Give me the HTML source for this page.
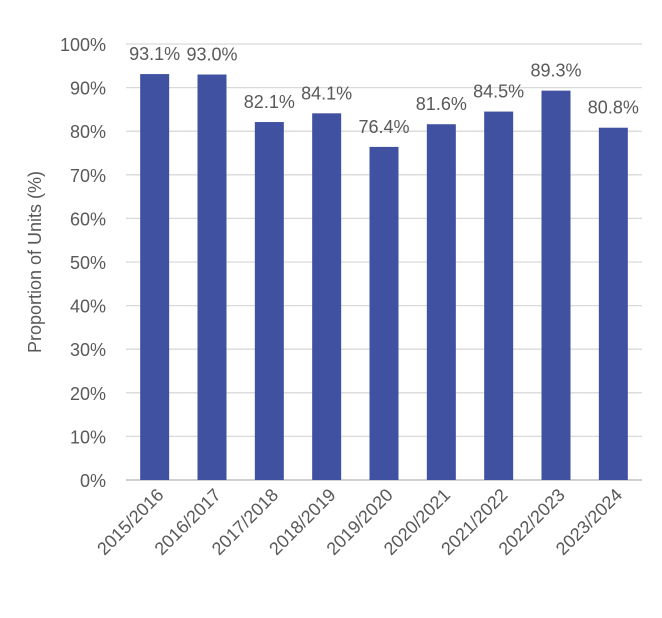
<!DOCTYPE html>
<html><head><meta charset="utf-8"><style>
html,body{margin:0;padding:0;background:#fff;}
svg{display:block;font-family:"Liberation Sans",sans-serif;}
</style></head><body>
<svg id="chart" width="662" height="618" xmlns="http://www.w3.org/2000/svg"></svg>
<script>
const categories=["2015/2016","2016/2017","2017/2018","2018/2019","2019/2020","2020/2021","2021/2022","2022/2023","2023/2024"];
const values=[93.1,93.0,82.1,84.1,76.4,81.6,84.5,89.3,80.8];
const valueLabels=["93.1%","93.0%","82.1%","84.1%","76.4%","81.6%","84.5%","89.3%","80.8%"];
const yTicks=[0,10,20,30,40,50,60,70,80,90,100];
const yTickLabels=["0%","10%","20%","30%","40%","50%","60%","70%","80%","90%","100%"];

(function(){
const svg=document.getElementById('chart');
const NS="http://www.w3.org/2000/svg";
const plotL=126,plotR=642,plotT=44,plotB=480;
const band=(plotR-plotL)/categories.length;
const yS=v=>plotB-(v/100)*(plotB-plotT);
const xS=i=>plotL+band*(i+0.5);
function mk(t,a){const e=document.createElementNS(NS,t);for(const k in a)e.setAttribute(k,a[k]);svg.appendChild(e);return e;}

yTicks.forEach((t,i)=>{
  const g=mk('line',{x1:plotL,x2:plotR,y1:yS(t),y2:yS(t),stroke:i===0?'#d0d0d0':'#d9d9d9','stroke-width':i===0?2:1.3});
  
  
  const l=mk('text',{x:106,y:yS(t)+7,'text-anchor':'end','font-size':18,fill:'#595959'});
  l.textContent=yTickLabels[i];
  
  
});

categories.forEach((c,i)=>{
  const bw=29;
  const b=mk('rect',{x:xS(i)-bw/2,y:yS(values[i]),width:bw,height:plotB-yS(values[i]),fill:'#3f51a0'});
  
  
  const v=mk('text',{x:xS(i),y:yS(values[i])-14,'text-anchor':'middle','font-size':18,fill:'#595959'});
  v.textContent=valueLabels[i];
  
  
  const cx=xS(i)+10,cy=496;
  const t=mk('text',{x:cx,y:cy,'text-anchor':'end','font-size':18,fill:'#595959',transform:`rotate(-45 ${cx} ${cy})`});
  t.textContent=c;
  
  
});

const at=mk('text',{x:41,y:262,'text-anchor':'middle','font-size':18,fill:'#595959',transform:'rotate(-90 41 262)'});
at.textContent="Proportion of Units (%)";


})();
</script>
</body></html>
